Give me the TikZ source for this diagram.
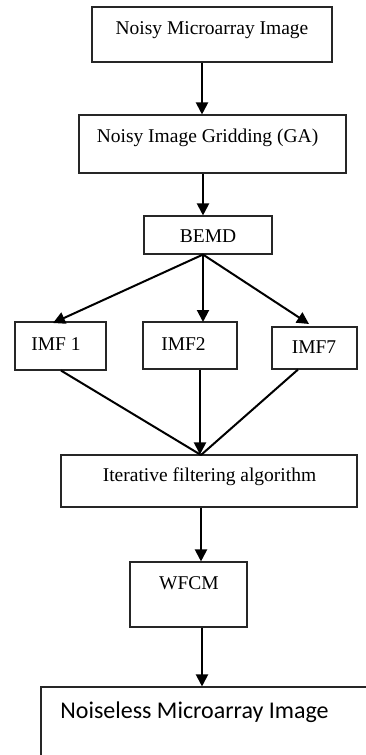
\documentclass[tikz,border=0pt]{standalone}
\usepackage{fontspec}
\setmainfont{Liberation Serif}
\newfontfamily\calib{Carlito}
\usetikzlibrary{arrows.meta}
\begin{document}
\begin{tikzpicture}[x=1pt,y=-1pt,
  box/.style={draw=black!85, line width=1.1pt, inner sep=0pt, minimum width=#1},
  lbl/.style={anchor=base, inner sep=0pt, font=\fontsize{19.5}{23}\selectfont},
  arr/.style={line width=2pt, -{Triangle[length=12pt,width=12pt]}},
  ln/.style={line width=2pt}]
\useasboundingbox (0,0) rectangle (366,755);
% boxes
\node[box=240, minimum height=55] (b1) at (212,34.5) {};
\node[box=267, minimum height=58] (b2) at (212.5,144) {};
\node[box=128, minimum height=38] (b3) at (208,235) {};
\node[box=91, minimum height=48] (i1) at (60.5,346) {};
\node[box=94, minimum height=47] (i2) at (190,345.5) {};
\node[box=85, minimum height=42] (i7) at (314.5,348) {};
\node[box=296, minimum height=52] (it) at (209,481) {};
\node[box=117, minimum height=65] (wf) at (188.5,594.5) {};
\node[box=340, minimum height=90] (nl) at (211,732) {};
% texts
\node[lbl] (t1) at (212,34.3) {Noisy Microarray Image};
\node[lbl] (t2) at (207.5,142.7) {Noisy Image Gridding (GA)};
\node[lbl] (t3) at (208,242.7) {BEMD};
\node[lbl] (t4) at (56,350) {IMF 1};
\node[lbl] (t5) at (183.5,350) {IMF2};
\node[lbl] (t6) at (314,353) {IMF7};
\node[lbl] (t7) at (209.5,481.7) {Iterative filtering algorithm};
\node[lbl] (t8) at (189,589) {WFCM};
\node[lbl, font=\calib\fontsize{24}{28}\selectfont] (t9) at (194.5,718) {Noiseless Microarray Image};
% connector coordinates
\coordinate (x1) at (202,0);
\coordinate (x2) at (203,0);
\coordinate (x3) at (201,0);
\coordinate (x4) at (202,0);
\coordinate (tip1) at (53,323);
\coordinate (tip2) at (203,322);
\coordinate (tip7) at (309,324);
\coordinate (s1) at (61,0);
\coordinate (s2) at (200,0);
\coordinate (s7) at (298,0);
\coordinate (conv) at (201,455);
% connectors
\draw[arr] (b1.south -| x1) -- (b2.north -| x1);
\draw[arr] (b2.south -| x2) -- (b3.north -| x2);
\draw[arr] (b3.south -| x2) -- (tip1);
\draw[arr] (b3.south -| x2) -- (tip2);
\draw[arr] (b3.south -| x2) -- (tip7);
\draw[ln] (i1.south -| s1) -- (conv);
\draw[ln] (i7.south -| s7) -- (conv);
\draw[arr] (i2.south -| s2) -- (it.north -| s2);
\draw[arr] (it.south -| x3) -- (wf.north -| x3);
\draw[arr] (wf.south -| x4) -- (nl.north -| x4);
\end{tikzpicture}
\end{document}
